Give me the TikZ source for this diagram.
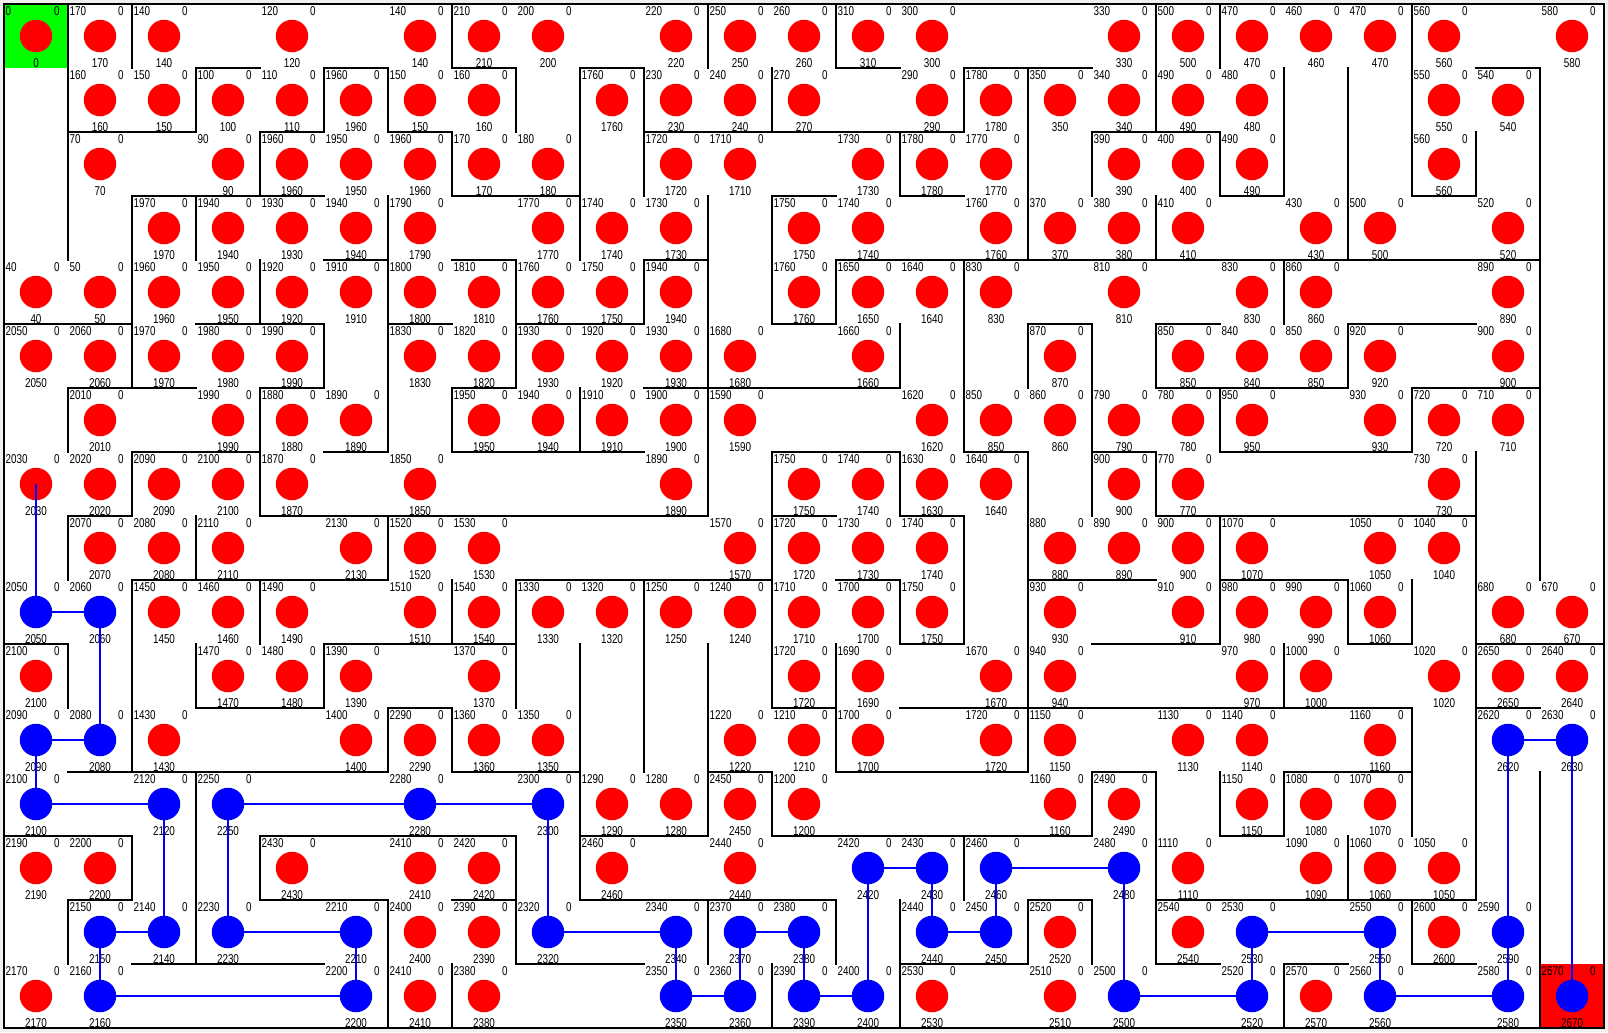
\documentclass[tikz,border=0pt]{standalone}
\usepackage{fontspec}
\usepackage{graphicx}
\newfontfamily\mazefont{Liberation Sans}
\usetikzlibrary{calc}
\usetikzlibrary{positioning}

\begin{document}
\begin{tikzpicture}[
    x=1.28cm, y=-1.28cm,
    % Define styles for the two kinds of visited cells
    v_red/.style={circle, fill=red, inner sep=0pt, minimum size=6.5mm},
    v_blue/.style={circle, fill=blue, inner sep=0pt, minimum size=6.5mm},
    % Define label styles
    lab_tl/.style={anchor=base west, inner sep=0pt, font=\mazefont\fontsize{7.3}{8}\selectfont},
    lab_tr/.style={anchor=base west, inner sep=0pt, font=\mazefont\fontsize{7.3}{8}\selectfont},
    lab_bot/.style={anchor=base, inner sep=0pt, font=\mazefont\fontsize{7.3}{8}\selectfont},
    % Define wall and route styles
    wall/.style={draw=black, line width=1.1pt, line cap=rect},
    route/.style={draw=blue, line width=0.9pt}
]

    % --- Configuration ---
    \def\tlx{0.02}    % x offset of the value label
    \def\trx{0.776}   % x offset of the zero label
    \def\topy{0.177}  % baseline of the top labels
    \def\boty{0.989}  % baseline of the bottom label

    % --- Helper Macros ---
    \newcommand{\squeeze}[1]{\scalebox{0.77}[1]{#1}}
    % Arguments: list of row/from/to
    \newcommand{\hwalls}[1]{
        \foreach \wy/\wa/\wb in {#1} \draw[wall] (\wa,\wy) -- (\wb,\wy);
    }
    % Arguments: list of column/from/to
    \newcommand{\vwalls}[1]{
        \foreach \wx/\wa/\wb in {#1} \draw[wall] (\wx,\wa) -- (\wx,\wb);
    }

    % --- Background, start and goal ---
    \useasboundingbox (-0.0625,-0.0625) rectangle (25.0625,16.0625);
    \fill[black!6] (-0.0625,-0.0625) rectangle (25.0625,16.0625);
    \fill[white] (0,0) rectangle (25,16);
    \fill[green] (0,0) rectangle (1,1);
    \fill[red] (24,15) rectangle (25,16);

    % ================= WALLS =================
    \hwalls{1/3/4, 1/5/6, 1/7/8, 1/9/10, 1/13/14, 1/15/17, 1/23/24,
        2/1/3, 2/4/5, 2/6/7, 2/10/15, 2/17/19,
        3/2/5, 3/7/9, 3/12/13, 3/14/15, 3/19/20, 3/22/23,
        4/5/6, 4/7/8, 4/10/11, 4/13/24,
        5/0/2, 5/3/5, 5/6/7, 5/8/10, 5/12/13, 5/16/17, 5/18/19, 5/21/23,
        6/1/3, 6/4/5, 6/7/8, 6/10/14, 6/18/21, 6/22/24,
        7/2/4, 7/5/6, 7/7/10, 7/12/14, 7/15/16, 7/17/18, 7/19/22,
        8/1/2, 8/4/11, 8/12/13, 8/14/15, 8/18/23,
        9/2/6, 9/8/12, 9/13/14, 9/16/18, 9/19/21,
        10/0/1, 10/5/8, 10/14/15, 10/17/19, 10/21/22, 10/23/25,
        11/3/5, 11/6/7, 11/12/13, 11/14/22, 11/23/24,
        12/1/6, 12/7/9, 12/11/12, 12/13/16, 12/17/18, 12/20/22,
        13/0/2, 13/4/8, 13/9/11, 13/12/17, 13/19/20,
        14/1/2, 14/4/6, 14/7/8, 14/9/13, 14/16/17, 14/18/23,
        15/2/5, 15/8/10, 15/14/16, 15/18/19, 15/20/21, 15/22/23}
    \vwalls{1/0/4, 1/6/7, 1/8/9, 1/10/11, 1/14/15,
        2/0/1, 2/3/6, 2/7/8, 2/9/12, 2/13/14,
        3/1/2, 3/3/4, 3/8/9, 3/10/11, 3/12/15,
        4/2/3, 4/4/5, 4/6/8, 4/9/10, 4/13/14,
        5/1/2, 5/5/6, 5/10/11,
        6/1/2, 6/3/7, 6/8/9, 6/11/12, 6/14/16,
        7/0/1, 7/2/3, 7/6/7, 7/9/10, 7/11/12, 7/15/16,
        8/1/2, 8/4/6, 8/9/11, 8/13/15,
        9/1/4, 9/6/7, 9/10/14,
        10/1/3, 10/4/5, 10/9/12,
        11/0/1, 11/3/8, 11/10/13, 11/14/15,
        12/1/2, 12/3/5, 12/7/11, 12/12/13, 12/15/16,
        13/0/1, 13/4/5, 13/10/12, 13/14/15,
        14/2/3, 14/5/6, 14/7/8, 14/9/10, 14/14/16,
        15/1/2, 15/4/7, 15/8/10, 15/13/14,
        16/1/4, 16/5/6, 16/7/12, 16/14/15,
        17/2/3, 17/5/8, 17/12/13, 17/14/15,
        18/0/2, 18/3/4, 18/5/6, 18/7/8, 18/12/15,
        19/0/1, 19/2/3, 19/6/7, 19/8/10, 19/12/13,
        20/1/3, 20/4/5, 20/10/11, 20/12/13, 20/15/16,
        21/1/4, 21/5/6, 21/9/10, 21/13/14,
        22/0/3, 22/6/7, 22/9/10, 22/11/13, 22/14/15,
        23/2/3, 23/7/14,
        24/1/9, 24/12/16}
    \draw[wall] (0,0) rectangle (25,16);

    % ================= CELLS =================
    % -1 marks an empty cell, a negative value a cell on the route
    \foreach \rowvals [count=\rowno from 0] in {
        {0,170,140,-1,120,-1,140,210,200,-1,220,250,260,310,300,-1,-1,330,500,470,460,470,560,-1,580},
        {-1,160,150,100,110,1960,150,160,-1,1760,230,240,270,-1,290,1780,350,340,490,480,-1,-1,550,540,-1},
        {-1,70,-1,90,1960,1950,1960,170,180,-1,1720,1710,-1,1730,1780,1770,-1,390,400,490,-1,-1,560,-1,-1},
        {-1,-1,1970,1940,1930,1940,1790,-1,1770,1740,1730,-1,1750,1740,-1,1760,370,380,410,-1,430,500,-1,520,-1},
        {40,50,1960,1950,1920,1910,1800,1810,1760,1750,1940,-1,1760,1650,1640,830,-1,810,-1,830,860,-1,-1,890,-1},
        {2050,2060,1970,1980,1990,-1,1830,1820,1930,1920,1930,1680,-1,1660,-1,-1,870,-1,850,840,850,920,-1,900,-1},
        {-1,2010,-1,1990,1880,1890,-1,1950,1940,1910,1900,1590,-1,-1,1620,850,860,790,780,950,-1,930,720,710,-1},
        {2030,2020,2090,2100,1870,-1,1850,-1,-1,-1,1890,-1,1750,1740,1630,1640,-1,900,770,-1,-1,-1,730,-1,-1},
        {-1,2070,2080,2110,-1,2130,1520,1530,-1,-1,-1,1570,1720,1730,1740,-1,880,890,900,1070,-1,1050,1040,-1,-1},
        {-2050,-2060,1450,1460,1490,-1,1510,1540,1330,1320,1250,1240,1710,1700,1750,-1,930,-1,910,980,990,1060,-1,680,670},
        {2100,-1,-1,1470,1480,1390,-1,1370,-1,-1,-1,-1,1720,1690,-1,1670,940,-1,-1,970,1000,-1,1020,2650,2640},
        {-2090,-2080,1430,-1,-1,1400,2290,1360,1350,-1,-1,1220,1210,1700,-1,1720,1150,-1,1130,1140,-1,1160,-1,-2620,-2630},
        {-2100,-1,-2120,-2250,-1,-1,-2280,-1,-2300,1290,1280,2450,1200,-1,-1,-1,1160,2490,-1,1150,1080,1070,-1,-1,-1},
        {2190,2200,-1,-1,2430,-1,2410,2420,-1,2460,-1,2440,-1,-2420,-2430,-2460,-1,-2480,1110,-1,1090,1060,1050,-1,-1},
        {-1,-2150,-2140,-2230,-1,-2210,2400,2390,-2320,-1,-2340,-2370,-2380,-1,-2440,-2450,2520,-1,2540,-2530,-1,-2550,2600,-2590,-1},
        {2170,-2160,-1,-1,-1,-2200,2410,2380,-1,-1,-2350,-2360,-2390,-2400,2530,-1,2510,-2500,-1,-2520,2570,-2560,-1,-2580,-2670}} {
        \foreach \v [count=\colno from 0] in \rowvals {
            \ifnum\v=-1\relax\else
                \pgfmathtruncatemacro\lab{abs(\v)}
                \ifnum\v<-1\relax \def\dotstyle{v_blue}\else \def\dotstyle{v_red}\fi
                \node[\dotstyle] (n\rowno_\colno) at (\colno+0.5,\rowno+0.5) {};
                \node[lab_tl] (t\rowno_\colno) at (\colno+\tlx,\rowno+\topy) {\squeeze{\lab}};
                \node[lab_tr] (z\rowno_\colno) at (\colno+\trx,\rowno+\topy) {\squeeze{0}};
                \node[lab_bot] (b\rowno_\colno) at (\colno+0.5,\rowno+\boty) {\squeeze{\lab}};
            \fi
        }
    }

    % ================= ROUTE =================
    \foreach \p [remember=\p as \q (initially 7_0)] in {9_0, 9_1, 11_1, 11_0, 12_0, 12_2, 14_2, 14_1, 15_1,
        15_5, 14_5, 14_3, 12_3, 12_6, 12_8, 14_8, 14_10, 15_10, 15_11, 14_11, 14_12, 15_12,
        15_13, 13_13, 13_14, 14_14, 14_15, 13_15, 13_17, 15_17, 15_19, 14_19, 14_21, 15_21,
        15_23, 14_23, 11_23, 11_24, 15_24} {
        \draw[route] (n\q.center) -- (n\p.center);
    }

\end{tikzpicture}
\end{document}
